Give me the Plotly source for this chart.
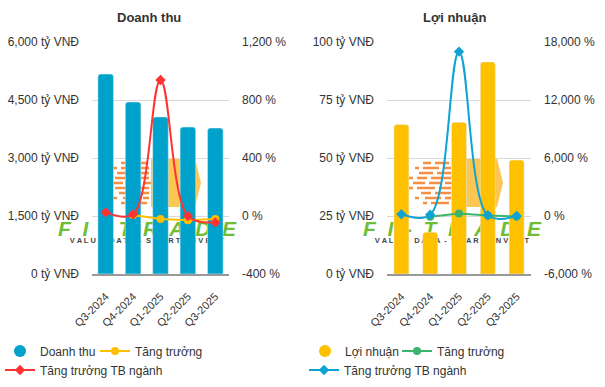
import plotly.graph_objects as go

# ---------------- data ----------------
quarters = ["Q3-2024", "Q4-2024", "Q1-2025", "Q2-2025", "Q3-2025"]

revenue = [5170, 4450, 4060, 3800, 3775]            # tỷ VNĐ
revenue_growth = [None, 7, -21, -30, -21]            # %
revenue_sector_growth = [25, 12, 938, 0, -44]        # %

profit = [64.4, 18.0, 65.4, 91.4, 49.1]              # tỷ VNĐ
profit_growth = [None, -72, 263, 40, -46]            # %
profit_sector_growth = [180, 130, 17000, 70, 0]      # %

rev_ticks = [0, 1500, 3000, 4500, 6000]
rev_pct_ticks = [-400, 0, 400, 800, 1200]
prof_ticks = [0, 25, 50, 75, 100]
prof_pct_ticks = [-6000, 0, 6000, 12000, 18000]

# ---------------- style ----------------
W, H = 605, 387
FONT = "Arial"
TXT = "#333333"
C_BLUE_BAR = "#00A2CC"
C_YELLOW = "#FFC000"
C_RED = "#FF3333"
C_GREEN = "#3DB36E"
C_BLUE_LINE = "#0FA3D4"
GRID = "#D9D9D9"


def px(x):
    return x / W


def py(y):
    return 1 - y / H


def money_labels(vals):
    return [f"{v:,} tỷ VNĐ" for v in vals]


def pct_labels(vals):
    return [f"{v:,} %" for v in vals]


fig = go.Figure()

# Left chart
fig.add_trace(go.Bar(x=quarters, y=revenue, name="Doanh thu", marker_color=C_BLUE_BAR,
                     width=0.57, xaxis="x", yaxis="y", showlegend=False))
fig.add_trace(go.Scatter(x=quarters, y=revenue_growth, name="Tăng trưởng", mode="lines+markers",
                         line=dict(color=C_YELLOW, width=2), marker=dict(size=8, symbol="circle"),
                         xaxis="x", yaxis="y2", legend="legend2"))
fig.add_trace(go.Scatter(x=quarters, y=revenue_sector_growth, name="Tăng trưởng TB ngành",
                         mode="lines+markers", line=dict(color=C_RED, width=2, shape="spline", smoothing=1.0),
                         marker=dict(size=8, symbol="diamond"),
                         xaxis="x", yaxis="y2", legend="legend3"))
# legend proxy for bars (circle symbol)
fig.add_trace(go.Scatter(x=[None], y=[None], name="Doanh thu", mode="markers",
                         marker=dict(size=12, color=C_BLUE_BAR), xaxis="x", yaxis="y", legend="legend"))

# Right chart
fig.add_trace(go.Bar(x=quarters, y=profit, name="Lợi nhuận", marker_color=C_YELLOW,
                     width=0.52, xaxis="x2", yaxis="y3", showlegend=False))
fig.add_trace(go.Scatter(x=quarters, y=profit_growth, name="Tăng trưởng", mode="lines+markers",
                         line=dict(color=C_GREEN, width=2), marker=dict(size=8, symbol="circle"),
                         xaxis="x2", yaxis="y4", legend="legend5"))
fig.add_trace(go.Scatter(x=quarters, y=profit_sector_growth, name="Tăng trưởng TB ngành",
                         mode="lines+markers", line=dict(color=C_BLUE_LINE, width=2, shape="spline", smoothing=1.0),
                         marker=dict(size=8, symbol="diamond"),
                         xaxis="x2", yaxis="y4", legend="legend6"))
fig.add_trace(go.Scatter(x=[None], y=[None], name="Lợi nhuận", mode="markers",
                         marker=dict(size=12, color=C_YELLOW), xaxis="x2", yaxis="y3", legend="legend4"))

ydom = [py(274), py(42)]
tickfont = dict(family=FONT, size=12, color=TXT)
xfont = dict(family=FONT, size=11, color=TXT)


def left_axis(ticks, rng, anchor):
    return dict(domain=ydom, range=rng, tickmode="array", tickvals=ticks, ticktext=money_labels(ticks),
                showgrid=True, gridcolor=GRID, gridwidth=1, zeroline=False, ticks="",
                tickfont=tickfont, ticklabelstandoff=12, anchor=anchor, fixedrange=True,
                automargin=False)


def right_axis(ticks, rng, anchor, overlay):
    return dict(range=rng, tickmode="array", tickvals=ticks, ticktext=pct_labels(ticks), side="right",
                overlaying=overlay, anchor=anchor, showgrid=False, zeroline=False, ticks="",
                tickfont=tickfont, ticklabelstandoff=12, automargin=False)


def xaxis(dom, anchor):
    return dict(domain=dom, anchor=anchor, type="category", tickangle=-45, tickfont=xfont,
                showline=True, linecolor="#999999", linewidth=1.5, ticks="", showgrid=False,
                ticklabelstandoff=10, automargin=False)


legend_common = dict(orientation="h", font=dict(family=FONT, size=12, color=TXT),
                     bgcolor="rgba(0,0,0,0)", yanchor="middle", xanchor="left",
                     itemclick=False, itemdoubleclick=False)

fig.update_layout(
    width=W, height=H,
    margin=dict(l=0, r=0, t=0, b=0, pad=0, autoexpand=False),
    paper_bgcolor="white", plot_bgcolor="rgba(0,0,0,0)",
    barcornerradius=3,
    xaxis=xaxis([px(92), px(229)], "y"),
    yaxis=left_axis(rev_ticks, [0, 6000], "x"),
    yaxis2=right_axis(rev_pct_ticks, [-400, 1200], "x", "y"),
    xaxis2=xaxis([px(387), px(531)], "y3"),
    yaxis3=left_axis(prof_ticks, [0, 100], "x2"),
    yaxis4=right_axis(prof_pct_ticks, [-6000, 18000], "x2", "y3"),
    legend=dict(x=px(0), y=py(351), **legend_common),
    legend2=dict(x=px(95), y=py(351), **legend_common),
    legend3=dict(x=px(0), y=py(370), **legend_common),
    legend4=dict(x=px(305), y=py(351), **legend_common),
    legend5=dict(x=px(397), y=py(351), **legend_common),
    legend6=dict(x=px(304), y=py(370), **legend_common),
    showlegend=True,
)

# titles
for text, cx in (("Doanh thu", 149), ("Lợi nhuận", 454)):
    fig.add_annotation(text=f"<b>{text}</b>", x=px(cx), y=py(18), xref="paper", yref="paper",
                       showarrow=False, font=dict(family=FONT, size=13, color=TXT),
                       xanchor="center", yanchor="middle")

# watermark (background logo) for both charts
shapes = []
for bx, tx in ((143, 147), (445, 452)):
    # orange dashes (x offsets of segments relative to block left edge)
    rows = [
        (163, [(-22, -14), (-10, 4)]),
        (168, [(-30, -26), (-22, -6), (-2, 6)]),
        (173, [(-26, -12), (-8, 6)]),
        (178, [(-36, -32), (-28, -18), (-14, 6)]),
        (183, [(-32, -20), (-16, -4), (0, 8)]),
        (188, [(-36, -32), (-28, -10), (-6, 6)]),
        (193, [(-24, -14), (-10, 6)]),
        (198, [(-30, -26), (-20, -4), (0, 6)]),
        (203, [(-22, -18), (-14, 4)]),
    ]
    for yy, segs in rows:
        for x0, x1 in segs:
            shapes.append(dict(type="line", xref="paper", yref="paper", layer="below",
                               x0=px(bx + x0), x1=px(bx + x1), y0=py(yy), y1=py(yy),
                               line=dict(color="rgba(244,123,32,0.85)", width=2.5)))
    # yellow arrow block
    path = (f"M{px(bx + 8)},{py(158)} L{px(bx + 52)},{py(158)} L{px(bx + 58)},{py(183)} "
            f"L{px(bx + 52)},{py(207)} L{px(bx + 8)},{py(207)} Z")
    shapes.append(dict(type="path", path=path, xref="paper", yref="paper", layer="below",
                       fillcolor="rgba(251,184,41,0.8)", line=dict(width=0)))
    # green brand text
    shapes.append(dict(type="rect", xref="paper", yref="paper", layer="below",
                       x0=px(tx - 100), x1=px(tx + 100), y0=py(236), y1=py(216),
                       line=dict(width=0), fillcolor="rgba(0,0,0,0)",
                       label=dict(text="F  I  -  T  R  A  D  E",
                                  font=dict(family=FONT, size=21, weight="bold", style="italic",
                                            color="rgba(100,185,40,0.95)"))))
    shapes.append(dict(type="rect", xref="paper", yref="paper", layer="below",
                       x0=px(tx - 80), x1=px(tx + 80), y0=py(245), y1=py(235),
                       line=dict(width=0), fillcolor="rgba(0,0,0,0)",
                       label=dict(text="V A L U E   D A T A  -  S M A R T   I N V E S T",
                                  font=dict(family=FONT, size=7.5, weight="bold", color="#444444"))))
fig.update_layout(shapes=shapes)

fig.write_html("out.html", config={"displayModeBar": False, "staticPlot": False},
               post_script="document.body.style.margin='0';document.body.style.overflow='hidden';")
